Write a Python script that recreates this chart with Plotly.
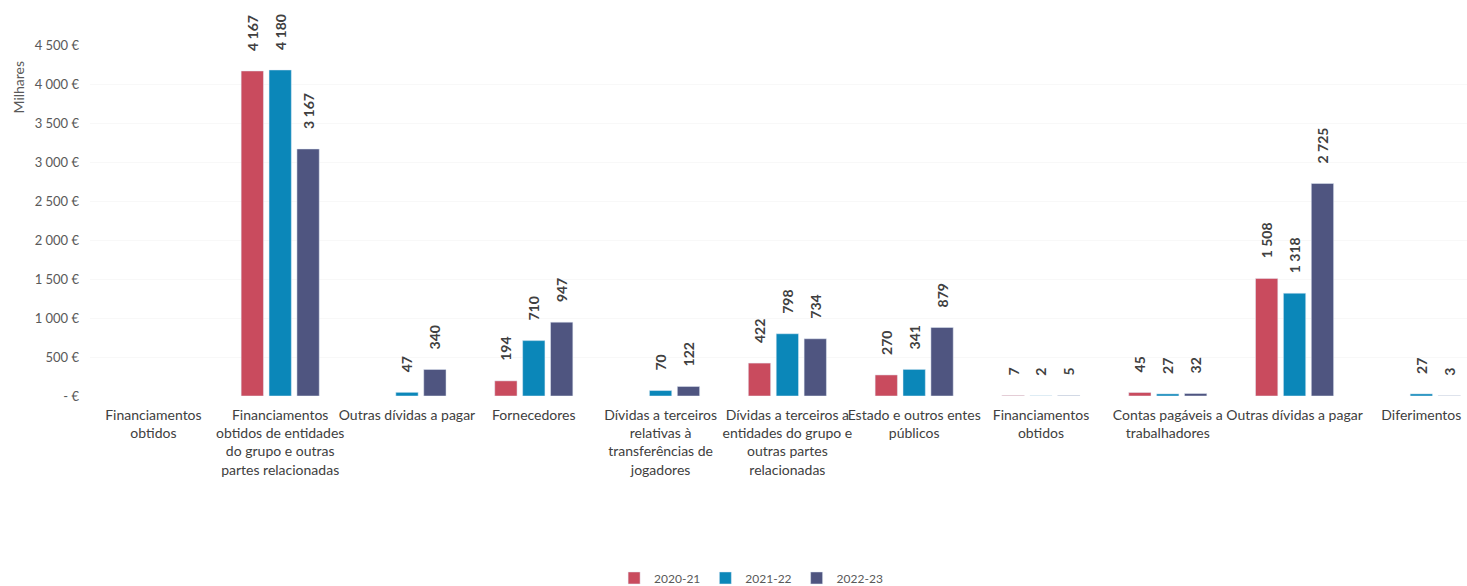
import plotly.graph_objects as go

categories = [
    "Financiamentos<br>obtidos",
    "Financiamentos<br>obtidos de entidades<br>do grupo e outras<br>partes relacionadas",
    "Outras dívidas a pagar",
    "Fornecedores",
    "Dívidas a terceiros<br>relativas à<br>transferências de<br>jogadores",
    "Dívidas a terceiros a<br>entidades do grupo e<br>outras partes<br>relacionadas",
    "Estado e outros entes<br>públicos",
    "Financiamentos<br>obtidos",
    "Contas pagáveis a<br>trabalhadores",
    "Outras dívidas a pagar",
    "Diferimentos",
]
series_names = ["2020-21", "2021-22", "2022-23"]
v_2020_21 = [None, 4167, None, 194, None, 422, 270, 7, 45, 1508, None]
v_2021_22 = [None, 4180, 47, 710, 70, 798, 341, 2, 27, 1318, 27]
v_2022_23 = [None, 3167, 340, 947, 122, 734, 879, 5, 32, 2725, 3]
y_tickvals = [0, 500, 1000, 1500, 2000, 2500, 3000, 3500, 4000, 4500]
y_ticktext = ["- €", "500 €", "1 000 €", "1 500 €", "2 000 €", "2 500 €",
              "3 000 €", "3 500 €", "4 000 €", "4 500 €"]

colors = ["#C94B5E", "#0B87B9", "#4F5580"]
series_values = [v_2020_21, v_2021_22, v_2022_23]

def fmt(v):
    if v is None:
        return ""
    return "\u00a0" * 5 + f"{v:,}".replace(",", "\u00a0")

x = list(range(len(categories)))
fig = go.Figure()
for name, vals, col in zip(series_names, series_values, colors):
    fig.add_trace(go.Bar(
        x=x, y=vals, name=name, marker_color=col,
        text=[fmt(v) for v in vals], textposition="outside",
        textangle=-90, cliponaxis=False, constraintext="none",
        textfont=dict(family="Lato", size=14, color="#404040", weight="bold"),
    ))

fig.update_layout(
    width=1467, height=586,
    margin=dict(l=90, r=0, t=45, b=190),
    paper_bgcolor="white", plot_bgcolor="white",
    barmode="group", bargap=0.34, bargroupgap=0.2,
    font=dict(family="Lato", color="#404040"),
    xaxis=dict(
        tickmode="array", tickvals=x, ticktext=categories,
        range=[-0.5, 10.36], showgrid=False, zeroline=False, showline=False,
        ticks="", tickangle=0, ticklabelstandoff=9,
        tickfont=dict(family="Lato", size=14, color="#404040"),
    ),
    yaxis=dict(
        range=[0, 4500], tickmode="array", tickvals=y_tickvals, ticktext=y_ticktext,
        showgrid=True, gridcolor="#F8F8F8", zeroline=False, showline=False,
        tickfont=dict(family="Lato", size=13, color="#595959"),
        ticklabelstandoff=10,
    ),
    legend=dict(orientation="h", xref="container", yref="container",
                x=0.512, xanchor="center", y=0.0137, yanchor="middle",
                font=dict(family="Lato", size=12, color="#595959"),
                itemwidth=30, traceorder="normal"),
    annotations=[dict(
        text="Milhares", xref="paper", yref="paper", x=-0.052, y=0.88,
        xanchor="center", yanchor="middle", textangle=-90, showarrow=False,
        font=dict(family="Lato", size=14, color="#595959"),
    )],
    showlegend=True,
)

fig.write_html("out.html")
